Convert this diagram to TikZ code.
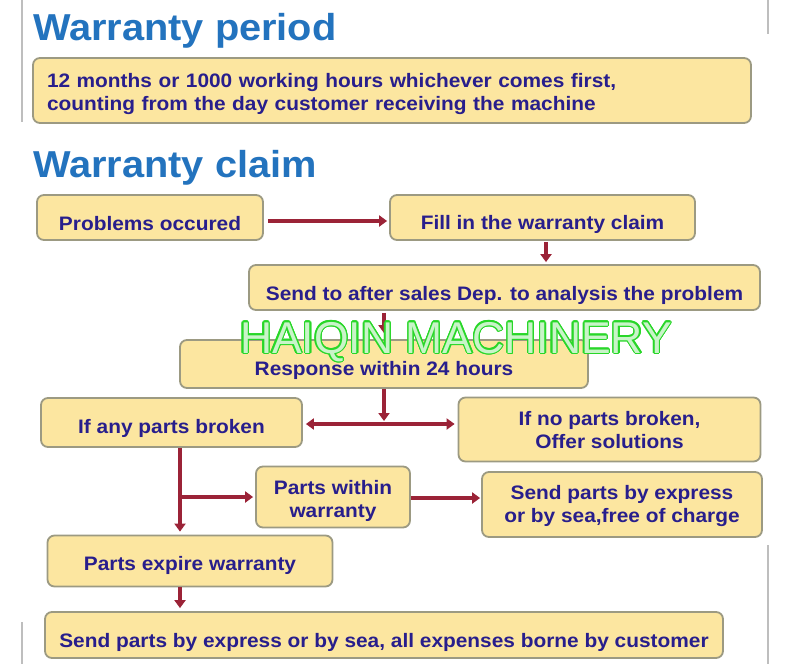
\documentclass[tikz,border=0pt]{standalone}
\usepackage{fontspec}
\setmainfont{Liberation Sans}
\newfontfamily\boxfont{Liberation Sans}[FakeStretch=1.07]
\newfontfamily\titlefont{Liberation Sans}[FakeStretch=1.06]
\usetikzlibrary{arrows.meta,calc}
\definecolor{boxfill}{RGB}{252,230,160}
\definecolor{boxline}{RGB}{156,154,130}
\definecolor{boxtext}{RGB}{40,30,140}
\definecolor{arrowred}{RGB}{155,35,55}
\definecolor{titleblue}{RGB}{35,115,190}
\definecolor{wmgreen}{RGB}{40,215,40}
\definecolor{framegray}{RGB}{190,190,190}
\begin{document}
\begin{tikzpicture}[x=1pt,y=-1pt,
  box/.style={draw=boxline, line width=1.8pt, fill=boxfill, rounded corners=7pt,
    text=boxtext, font=\boxfont\bfseries\fontsize{19.5}{23}\selectfont,
    align=center, inner sep=0pt},
  tb/.style={text height=#1, text depth=0pt},
  arr/.style={draw=arrowred, line width=4.4pt, -{Triangle[length=8pt,width=11pt]}},
  dblarr/.style={draw=arrowred, line width=4.4pt,
    {Triangle[length=8pt,width=11pt]}-{Triangle[length=8pt,width=11pt]}},
  titletext/.style={text=titleblue, font=\titlefont\bfseries\fontsize{37.5}{40}\selectfont,
    anchor=base west, inner sep=0pt},
  wmtext/.style={font=\fontsize{44.5}{46}\selectfont, anchor=base, inner sep=0pt},
  frameline/.style={draw=framegray, line width=1.2pt}
]
\useasboundingbox[fill=white] (0,0) rectangle (800,664);

% faint photo frame edges
\draw[frameline] (22,0) -- (22,122);
\draw[frameline] (22,622) -- (22,664);
\draw[frameline] (768,0) -- (768,34);
\draw[frameline] (768,545) -- (768,664);

% titles
\node[titletext] (t1) at (33,40) {Warranty period};
\node[titletext] (t2) at (33,177) {Warranty claim};

% boxes
\node[box, text height=16pt, text depth=23pt, align=left, text width=690pt, inner xsep=14pt, minimum height=65pt] (period) at (392,90.5)
  {12 months or 1000 working hours whichever comes first,\\counting from the day customer receiving the machine};
\node[box, tb=25pt, minimum width=226pt, minimum height=45pt] (prob) at (150,217.5) {Problems occured};
\node[box, tb=23pt, minimum width=305pt, minimum height=45pt] (fill) at (542.5,217.5) {Fill in the warranty claim};
\node[box, tb=25pt, minimum width=511pt, minimum height=45pt] (send) at (504.5,287.5) {Send to after sales Dep. to analysis the problem};
\node[box, tb=22pt, minimum width=408pt, minimum height=48pt] (resp) at (384,364) {Response within 24 hours};
\node[box, tb=21pt, minimum width=261pt, minimum height=49pt] (any) at (171.5,422.5) {If any parts broken};
\node[box, tb=37pt, minimum width=302pt, minimum height=64pt] (nobr) at (609.5,429.5) {If no parts broken,\\Offer solutions};
\node[box, tb=40pt, minimum width=154pt, minimum height=61pt] (within) at (333,497) {Parts within\\warranty};
\node[box, tb=35pt, minimum width=280pt, minimum height=65pt] (free) at (622,504.5) {Send parts by express\\or by sea,free of charge};
\node[box, tb=18pt, minimum width=285pt, minimum height=51pt] (expire) at (190,561) {Parts expire warranty};
\node[box, tb=24pt, minimum width=678pt, minimum height=46pt] (all) at (384,635) {Send parts by express or by sea, all expenses borne by customer};

% connectors
\coordinate (r1) at (0,221);
\coordinate (c2) at (546,0);
\coordinate (split) at (384,424);
\coordinate (lb) at (180,497);
\coordinate (rb) at (0,498);

\draw[arr, shorten <=4pt, shorten >=2pt] (prob.east |- r1) -- (fill.west |- r1);
\draw[arr, shorten <=1pt, shorten >=2pt] (fill.south -| c2) -- (send.north -| c2);
\draw[arr, shorten <=2pt, shorten >=6pt] (send.south -| resp.north) -- (resp.north);
\draw[arr, shorten >=3pt] (resp.south) -- (split);
\draw[dblarr, shorten <=3pt, shorten >=3pt] (split -| any.east) -- (split -| nobr.west);
\draw[arr, shorten >=3pt] (any.south -| lb) -- (expire.north -| lb);
\draw[arr, shorten >=2pt] (lb) -- (lb -| within.west);
\draw[arr, shorten >=1pt] (within.east |- rb) -- (free.west |- rb);
\draw[arr, shorten >=3pt] (expire.south -| lb) -- (all.north -| lb);

% watermark (outlined text)
\coordinate (wmpos) at (456,353);
\foreach \a [count=\i] in {0,22.5,...,337.5}
  \node[wmtext, text=wmgreen] (wmc\i) at ($(wmpos)+(\a:1.3pt)$) {HAIQIN MACHINERY};
\node[wmtext, text=white, text opacity=0.75] (wm) at (wmpos) {HAIQIN MACHINERY};
\end{tikzpicture}
\end{document}
